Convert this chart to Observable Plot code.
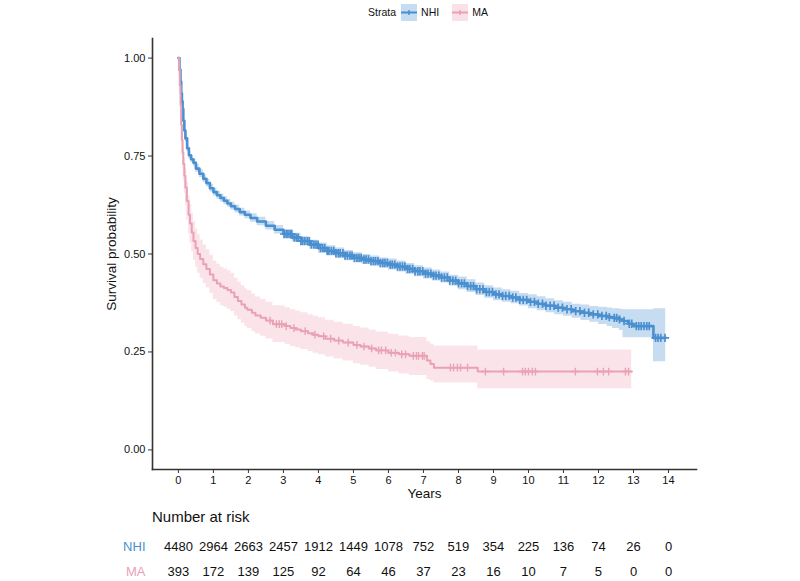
<!DOCTYPE html>
<html><head><meta charset="utf-8">
<script src="https://cdn.jsdelivr.net/npm/d3@7"></script>
<script src="https://cdn.jsdelivr.net/npm/@observablehq/plot@0.6"></script>
<style>
body{margin:0;background:#fff;font-family:"Liberation Sans",Arial,sans-serif;}
#wrap{position:relative;width:800px;height:581px;overflow:hidden;background:#fff;}
#legend{position:absolute;top:3px;left:0;width:856px;height:18px;display:flex;justify-content:center;align-items:center;font-size:10.5px;color:#111;}
#legend span{display:inline-block;}
#legend svg{display:block;}
#main{position:absolute;left:0;top:0;}
#risk{position:absolute;left:0;top:530px;}
#risktitle{position:absolute;left:152px;top:508px;font-size:15px;line-height:18px;color:#111;}
</style></head>
<body>
<div id="wrap">
  <div id="main"></div>
  <div id="legend"></div>
  <div id="risktitle"></div>
  <div id="risk"></div>
</div>
<script>
// ---- data ----
const strata = ["NHI", "MA"];
const xTicks = [0,1,2,3,4,5,6,7,8,9,10,11,12,13,14];
const yTicks = [0, 0.25, 0.5, 0.75, 1.0];

const nhiTime  = [0,0.03,0.06,0.08,0.1,0.12,0.14,0.17,0.2,0.25,0.3,0.36,0.43,0.5,0.6,0.71,0.8,0.9,1.0,1.1,1.2,1.3,1.4,1.5,1.62,1.75,1.9,2.06,2.25,2.5,2.75,3.0,3.25,3.5,3.75,4.0,4.25,4.5,4.75,5.0,5.25,5.5,5.75,6.0,6.25,6.5,6.75,7.0,7.25,7.5,7.75,8.0,8.25,8.5,8.75,9.0,9.25,9.5,9.75,10.0,10.25,10.5,10.75,11.0,11.25,11.5,11.75,12.0,12.25,12.4,12.6,12.7,12.85,13.0,13.57,13.92];
const nhiSurv  = [1.0,0.97,0.94,0.91,0.89,0.87,0.84,0.815,0.795,0.77,0.752,0.742,0.733,0.718,0.705,0.692,0.681,0.668,0.658,0.65,0.643,0.636,0.629,0.622,0.615,0.607,0.6,0.592,0.583,0.572,0.562,0.551,0.542,0.533,0.524,0.515,0.508,0.502,0.496,0.49,0.486,0.482,0.477,0.473,0.468,0.462,0.456,0.45,0.445,0.44,0.432,0.425,0.418,0.41,0.403,0.397,0.393,0.389,0.383,0.378,0.373,0.368,0.363,0.359,0.354,0.35,0.346,0.342,0.339,0.337,0.333,0.329,0.322,0.316,0.286,0.286];
const nhiLower = [1.0,0.963,0.932,0.902,0.882,0.862,0.832,0.806,0.786,0.761,0.743,0.733,0.724,0.708,0.695,0.682,0.671,0.658,0.648,0.64,0.633,0.626,0.619,0.612,0.605,0.597,0.59,0.581,0.572,0.561,0.551,0.54,0.531,0.522,0.513,0.502,0.495,0.489,0.483,0.477,0.473,0.469,0.464,0.459,0.454,0.448,0.442,0.436,0.431,0.426,0.418,0.409,0.402,0.394,0.387,0.381,0.377,0.373,0.367,0.36,0.355,0.35,0.345,0.341,0.336,0.33,0.326,0.32,0.315,0.31,0.305,0.286,0.286,0.286,0.225,0.225];
const nhiUpper = [1.0,0.977,0.948,0.918,0.898,0.878,0.848,0.824,0.804,0.779,0.761,0.751,0.742,0.728,0.715,0.702,0.691,0.678,0.668,0.66,0.653,0.646,0.639,0.632,0.625,0.617,0.61,0.603,0.594,0.583,0.573,0.562,0.553,0.544,0.535,0.528,0.521,0.515,0.509,0.503,0.499,0.495,0.49,0.487,0.482,0.476,0.47,0.464,0.459,0.454,0.446,0.441,0.434,0.426,0.419,0.413,0.409,0.405,0.399,0.396,0.391,0.386,0.381,0.377,0.372,0.37,0.366,0.364,0.362,0.36,0.359,0.358,0.358,0.358,0.36,0.36];
const nhiCensor = [3.02,3.08,3.13,3.19,3.24,3.31,3.37,3.42,3.5,3.55,3.61,3.68,3.74,3.8,3.87,3.93,3.99,4.06,4.12,4.18,4.25,4.3,4.37,4.44,4.5,4.57,4.62,4.7,4.76,4.83,4.9,4.96,5.03,5.1,5.16,5.22,5.3,5.36,5.43,5.5,5.57,5.63,5.7,5.77,5.84,5.9,5.97,6.05,6.11,6.18,6.26,6.33,6.4,6.47,6.55,6.61,6.69,6.76,6.84,6.9,6.98,7.06,7.13,7.21,7.29,7.36,7.44,7.52,7.6,7.68,7.75,7.84,7.92,8.0,8.09,8.17,8.26,8.35,8.43,8.52,8.61,8.7,8.8,8.88,8.97,9.07,9.16,9.26,9.35,9.45,9.55,9.64,9.75,9.85,9.95,10.06,10.17,10.28,10.4,10.5,10.62,10.73,10.85,10.97,11.1,11.22,11.35,11.47,11.6,11.72,11.85,11.98,12.1,12.22,12.31,12.45,12.52,12.6,12.73,12.88,12.95,13.08,13.15,13.22,13.3,13.38,13.45,13.63,13.7,13.78,13.9];

const maTime  = [0,0.02,0.04,0.06,0.08,0.1,0.12,0.14,0.17,0.2,0.24,0.29,0.33,0.38,0.43,0.49,0.55,0.62,0.71,0.8,0.9,1.0,1.1,1.2,1.3,1.4,1.5,1.6,1.7,1.8,1.9,1.97,2.1,2.2,2.35,2.5,2.7,3.05,3.2,3.35,3.5,3.7,3.85,4.0,4.2,4.45,4.7,5.0,5.2,5.45,5.65,6.0,6.3,6.6,7.1,7.2,7.3,8.55,12.95];
const maSurv  = [1.0,0.97,0.93,0.88,0.83,0.79,0.76,0.73,0.7,0.67,0.635,0.6,0.578,0.555,0.533,0.515,0.5,0.487,0.474,0.462,0.448,0.433,0.425,0.417,0.413,0.408,0.402,0.39,0.38,0.371,0.363,0.358,0.35,0.343,0.337,0.33,0.321,0.316,0.311,0.307,0.303,0.298,0.294,0.29,0.284,0.279,0.274,0.268,0.264,0.259,0.254,0.248,0.244,0.24,0.228,0.219,0.21,0.2,0.2];
const maLower = [1.0,0.953,0.905,0.848,0.793,0.75,0.718,0.686,0.655,0.623,0.587,0.551,0.529,0.506,0.484,0.466,0.451,0.438,0.425,0.413,0.399,0.384,0.376,0.368,0.364,0.359,0.353,0.342,0.332,0.323,0.315,0.31,0.302,0.296,0.29,0.283,0.274,0.269,0.264,0.26,0.256,0.251,0.247,0.243,0.237,0.232,0.227,0.22,0.216,0.211,0.205,0.199,0.194,0.19,0.18,0.176,0.171,0.156,0.156];
const maUpper = [1.0,0.987,0.955,0.912,0.867,0.83,0.802,0.774,0.745,0.717,0.683,0.649,0.627,0.604,0.582,0.564,0.549,0.536,0.523,0.511,0.497,0.482,0.474,0.466,0.462,0.457,0.451,0.438,0.428,0.419,0.411,0.406,0.398,0.39,0.384,0.377,0.368,0.363,0.358,0.354,0.35,0.345,0.341,0.337,0.331,0.326,0.321,0.315,0.311,0.306,0.301,0.295,0.291,0.287,0.276,0.27,0.265,0.255,0.255];
const maCensor = [2.62,2.8,2.88,2.95,3.08,3.3,3.62,3.9,4.15,4.35,4.58,4.85,5.1,5.3,5.52,5.72,5.8,5.92,6.08,6.2,6.38,6.49,6.71,6.8,6.86,6.97,7.02,7.77,7.86,7.97,8.06,8.26,8.77,9.29,9.83,9.91,10.0,10.11,10.2,11.34,11.97,12.14,12.29,12.77,12.86];

const riskTimes = [0,1,2,3,4,5,6,7,8,9,10,11,12,13,14];
const nhiRisk = [4480,2964,2663,2457,1912,1449,1078,752,519,354,225,136,74,26,0];
const maRisk  = [393,172,139,125,92,64,46,37,23,16,10,7,5,0,0];

// ---- styles ----
const nhiColor = "#4a8fcf", nhiFill = "#c6dcf1";
const maColor  = "#e9a1b5", maFill  = "#fae1e8";
const font = "Liberation Sans, Arial, sans-serif";

// ---- build ----
const toRows = (T, S, L, U) => T.map((t, i) => ({t, s: S[i], lo: L[i], hi: U[i]}));
const nhi = toRows(nhiTime, nhiSurv, nhiLower, nhiUpper);
const ma  = toRows(maTime, maSurv, maLower, maUpper);
const stepAt = (T, S, t) => S[Math.max(0, d3.bisectRight(T, t) - 1)];
const nhiC = nhiCensor.map(t => ({t, s: stepAt(nhiTime, nhiSurv, t)}));
const maC  = maCensor.map(t => ({t, s: stepAt(maTime, maSurv, t)}));

const xDomain = [-0.74, 14.8];

const main = Plot.plot({
  width: 800, height: 505,
  marginLeft: 152, marginRight: 104, marginTop: 38, marginBottom: 36,
  style: {fontFamily: font, background: "transparent", color: "#111"},
  x: {domain: xDomain, label: null},
  y: {domain: [-0.05, 1.05], label: null},
  marks: [
    Plot.areaY(nhi, {x: "t", y1: "lo", y2: "hi", curve: "step-after", fill: nhiFill}),
    Plot.areaY(ma,  {x: "t", y1: "lo", y2: "hi", curve: "step-after", fill: maFill, fillOpacity: 0.9}),
    Plot.line(nhi, {x: "t", y: "s", curve: "step-after", stroke: nhiColor, strokeWidth: 2.6}),
    Plot.line(ma,  {x: "t", y: "s", curve: "step-after", stroke: maColor, strokeWidth: 2}),
    Plot.dot(nhiC, {x: "t", y: "s", symbol: "plus", r: 2.8, stroke: nhiColor, strokeWidth: 1.7}),
    Plot.dot(maC,  {x: "t", y: "s", symbol: "plus", r: 2.6, stroke: maColor, strokeWidth: 1.4}),
    Plot.axisX({ticks: xTicks, tickFormat: d => String(d), tickSize: 4, tickPadding: 3, fontSize: 11, stroke: "#333", fill: "#111"}),
    Plot.axisY({ticks: yTicks, tickFormat: d3.format(".2f"), tickSize: 4, tickPadding: 3, fontSize: 11, stroke: "#333", fill: "#111"}),
    Plot.frame({anchor: "left", stroke: "#333", strokeWidth: 1.6}),
    Plot.frame({anchor: "bottom", stroke: "#333", strokeWidth: 1.6}),
    Plot.text(["Years"], {frameAnchor: "bottom", dy: 24, lineAnchor: "middle", fontSize: 13.5, fill: "#111"}),
    Plot.text(["Survival probability"], {frameAnchor: "left", dx: -41, rotate: -90, lineAnchor: "middle", textAnchor: "middle", fontSize: 13.5, fill: "#111"})
  ]
});
document.getElementById("main").appendChild(main);

// risk table
const riskRows = [];
riskTimes.forEach((t, i) => {
  riskRows.push({t, strata: "NHI", n: nhiRisk[i]});
  riskRows.push({t, strata: "MA", n: maRisk[i]});
});
const risk = Plot.plot({
  width: 800, height: 51,
  marginLeft: 152, marginRight: 104, marginTop: 0, marginBottom: 0,
  style: {fontFamily: font, background: "transparent"},
  x: {domain: xDomain, axis: null},
  y: {type: "point", domain: strata, range: [16, 41], padding: 0, axis: null},
  marks: [
    Plot.text(riskRows, {x: "t", y: "strata", text: d => String(d.n), fontSize: 13, fill: "#111"}),
    Plot.text(["NHI"], {y: d => d, frameAnchor: "left", textAnchor: "end", dx: -7, fontSize: 13, fill: nhiColor}),
    Plot.text(["MA"],  {y: d => d, frameAnchor: "left", textAnchor: "end", dx: -7, fontSize: 13, fill: maColor})
  ]
});
document.getElementById("risk").appendChild(risk);
document.getElementById("risktitle").textContent = "Number at risk";

// legend
function keySvg(line, fill) {
  const s = d3.create("svg").attr("width", 16).attr("height", 17);
  s.append("rect").attr("width", 16).attr("height", 17).attr("fill", fill);
  s.append("line").attr("x1", 0).attr("x2", 16).attr("y1", 8.5).attr("y2", 8.5).attr("stroke", line).attr("stroke-width", 2);
  s.append("line").attr("x1", 8).attr("x2", 8).attr("y1", 6).attr("y2", 11).attr("stroke", line).attr("stroke-width", 1.5);
  return s.node();
}
const lg = document.getElementById("legend");
const addText = (txt, ml) => { const sp = document.createElement("span"); sp.textContent = txt; sp.style.marginLeft = ml + "px"; lg.appendChild(sp); };
const addKey = (line, fill, ml) => { const k = keySvg(line, fill); k.style.marginLeft = ml + "px"; lg.appendChild(k); };
addText("Strata", 0);
addKey(nhiColor, nhiFill, 5);
addText(strata[0], 4);
addKey(maColor, maFill, 13);
addText(strata[1], 4);
</script>
</body></html>
